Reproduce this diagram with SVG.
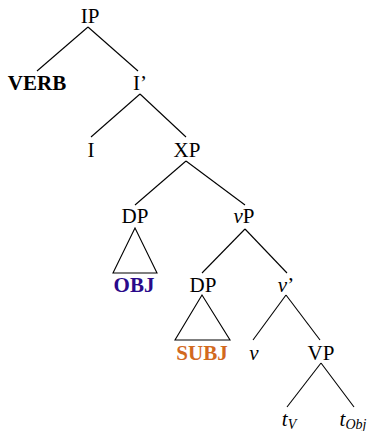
<svg xmlns="http://www.w3.org/2000/svg" width="368" height="431" viewBox="0 0 368 431">
<style>
text{font-family:"Liberation Serif","Times New Roman",serif;font-size:21px;fill:#000;text-anchor:middle}
.b{font-weight:bold}
.i{font-style:italic}
.sub{font-size:14px}
line,polygon{stroke:#000;stroke-width:1.1;fill:none}
</style>
<rect width="368" height="431" fill="#fff"/>
<g id="connectors">
<line x1="88" y1="27" x2="37" y2="71"/>
<line x1="88" y1="27" x2="138" y2="71"/>
<line x1="140" y1="94" x2="91" y2="137"/>
<line x1="140" y1="94" x2="186" y2="137"/>
<line x1="186" y1="161" x2="135" y2="205"/>
<line x1="186" y1="161" x2="245" y2="205"/>
<line x1="245" y1="229" x2="202" y2="273"/>
<line x1="245" y1="229" x2="287" y2="273"/>
<line x1="286" y1="295" x2="253" y2="340"/>
<line x1="286" y1="295" x2="320" y2="340"/>
<line x1="321" y1="363" x2="287" y2="407"/>
<line x1="321" y1="363" x2="354" y2="407"/>
</g>
<g id="n-IP"><text x="90" y="23">IP</text></g>
<g id="n-VERB"><text class="b" x="37" y="90">VERB</text></g>
<g id="n-Ibar"><text x="140" y="90">I’</text></g>
<g id="n-I"><text x="91" y="157">I</text></g>
<g id="n-XP"><text x="187" y="157">XP</text></g>
<g id="n-DP1"><text x="135" y="223">DP</text></g>
<g id="n-OBJ"><polygon points="135,228 113,273 157,273"/><text class="b" x="134" y="292" style="fill:#2a0a8a">OBJ</text></g>
<g id="n-vP"><text x="244" y="223"><tspan class="i">v</tspan>P</text></g>
<g id="n-DP2"><text x="203" y="292">DP</text></g>
<g id="n-SUBJ"><polygon points="202,295 175,340 230,340"/><text class="b" x="202" y="360" style="fill:#d2691e">SUBJ</text></g>
<g id="n-vbar"><text x="286" y="292"><tspan class="i">v</tspan>’</text></g>
<g id="n-v"><text class="i" x="254" y="360">v</text></g>
<g id="n-VP"><text x="321" y="360">VP</text></g>
<g id="n-tV"><text class="i" x="289" y="426">t<tspan class="sub" dy="3">V</tspan></text></g>
<g id="n-tObj"><text class="i" x="353" y="426">t<tspan class="sub" dy="3">Obj</tspan></text></g>
</svg>
